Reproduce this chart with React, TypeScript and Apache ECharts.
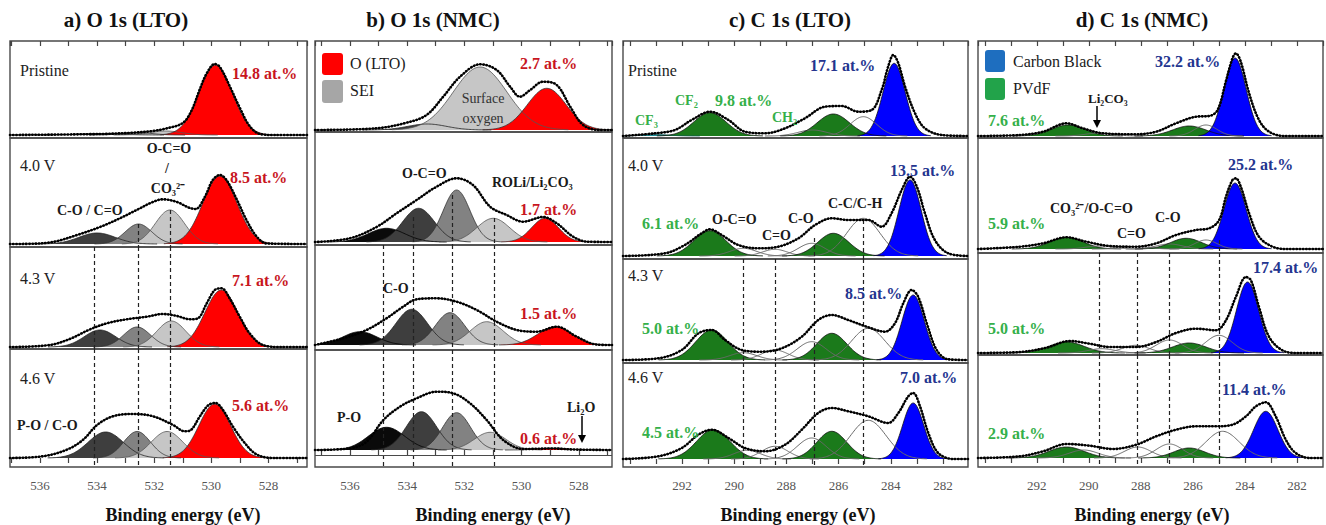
import React, { useEffect, useRef } from "react";
import * as echarts from "echarts";

// ---------------- data ----------------
const panelTitles = ["a) O 1s (LTO)", "b) O 1s (NMC)", "c) C 1s (LTO)", "d) C 1s (NMC)"];
const sampleLabels = ["Pristine", "4.0 V", "4.3 V", "4.6 V"];
const axisTitle = "Binding energy (eV)";
// labelled tick range of each panel's energy axis (eV)
const tickLabelRange = [[528, 536], [528, 536], [282, 292], [282, 292]];

// fitted components: [centre (eV), height (a.u.), FWHM (eV), component]
const aPristinePeaks = [[533.9, 1.5, 1.6, "d"], [532.6, 2.5, 1.2, "m"], [531.6, 4, 1.3, "l"], [529.85, 70, 1.38, "r"]];
const a40Peaks = [[534.0, 11, 1.5, "d"], [532.55, 20, 1.1, "m"], [531.45, 34, 1.2, "l"], [529.7, 68, 1.4, "r"]];
const a43Peaks = [[533.9, 17, 1.3, "d"], [532.6, 20, 1.1, "m"], [531.4, 26, 1.2, "l"], [529.65, 57, 1.35, "r"]];
const a46Peaks = [[533.7, 26, 1.45, "d"], [532.6, 26.5, 1.1, "m"], [531.55, 26.5, 1.3, "l"], [529.88, 54, 1.3, "r"]];

const bPristinePeaks = [[533.3, 6, 1.6, "d"], [531.45, 63, 2.2, "l"], [529.12, 41.7, 1.6, "r"]];
const b40Peaks = [[534.72, 13.7, 1.5, "k"], [533.6, 33.7, 1.3, "d"], [532.27, 52, 1.1, "m"], [530.99, 23.7, 1.35, "l"], [529.18, 23.7, 1.1, "r"]];
const b43Peaks = [[535.65, 13.3, 1.4, "k"], [533.84, 35.7, 1.3, "d"], [532.5, 32.3, 1.2, "m"], [531.22, 23.3, 1.35, "l"], [528.83, 18.3, 1.4, "r"]];
const b46Peaks = [[534.72, 22.7, 1.5, "k"], [533.5, 38.3, 1.25, "d"], [532.27, 37.3, 1.15, "m"], [531.1, 17.7, 1.3, "l"], [528.9, 2, 1.2, "r"]];

const cPristinePeaks = [[293.0, 1.5, 1.2, "t"], [290.93, 23.3, 1.45, "g"], [287.0, 6, 1.3, "w"], [286.2, 22, 1.45, "g"], [285.05, 19.3, 1.2, "w"], [283.87, 72.7, 1.0, "b"]];
const c40Peaks = [[290.93, 25.3, 1.45, "g"], [289.65, 7.7, 1.2, "w"], [288.44, 6.7, 1.1, "w"], [287.03, 12.7, 1.2, "w"], [286.2, 22.7, 1.4, "g"], [285.05, 37.7, 1.5, "w"], [283.26, 76, 1.0, "b"]];
const c43Peaks = [[290.86, 30, 1.45, "g"], [289.65, 7.3, 1.2, "w"], [288.44, 10, 1.2, "w"], [287.03, 18.3, 1.3, "w"], [286.26, 26.7, 1.35, "g"], [284.86, 31.7, 1.5, "w"], [283.14, 65, 1.0, "b"]];
const c46Peaks = [[290.8, 29.3, 1.5, "g"], [289.5, 8.7, 1.2, "w"], [288.44, 12.7, 1.2, "w"], [287.03, 21, 1.3, "w"], [286.26, 27.7, 1.35, "g"], [284.86, 38.7, 1.6, "w"], [283.14, 56, 0.95, "b"]];

const dPristinePeaks = [[290.8, 11, 1.5, "g"], [289.6, 3, 1.2, "w"], [286.14, 10, 1.5, "g"], [285.5, 11, 1.0, "w"], [284.38, 78, 1.0, "b"]];
const d40Peaks = [[290.86, 11.7, 1.5, "g"], [289.6, 3, 1.2, "w"], [288.2, 2.5, 1.2, "w"], [286.9, 5, 1.2, "w"], [286.26, 10.7, 1.4, "g"], [285.5, 9, 1.0, "w"], [284.38, 66, 1.0, "b"]];
const d43Peaks = [[290.86, 11, 1.6, "g"], [289.5, 4.3, 1.2, "w"], [288.2, 7.7, 1.2, "w"], [286.9, 13, 1.2, "w"], [286.14, 10, 1.5, "g"], [285.0, 17.7, 1.2, "w"], [283.9, 71, 1.0, "b"]];
const d46Peaks = [[290.86, 11, 1.6, "g"], [290.2, 8, 1.3, "w"], [288.12, 11, 1.2, "w"], [286.9, 14, 1.2, "w"], [286.14, 10, 1.4, "g"], [284.86, 26.7, 1.5, "w"], [283.2, 46.7, 1.1, "b"]];

// measured spectra (envelope): [binding energy (eV), intensity (a.u.)]
const aPristineData = [[537.05, 0], [533.9, 1], [532.75, 2.3], [532.05, 4], [531.56, 6.7], [531.0, 12], [530.7, 24], [530.4, 46], [530.16, 61.7], [529.88, 71], [529.7, 68], [529.36, 49], [529.0, 27], [528.66, 9], [528.3, 1], [527.8, 0], [526.65, 0]];
const a40Data = [[537.05, 0], [536.2, 0.3], [535.5, 2.3], [534.7, 9], [533.9, 17], [533.2, 25.7], [532.5, 35.7], [532.05, 42], [531.7, 44.7], [531.2, 42], [530.8, 36.5], [530.55, 35], [530.23, 47], [529.95, 64], [529.7, 69], [529.47, 64], [529.1, 44], [528.77, 24], [528.4, 7], [528.06, 0.5], [526.65, 0]];
const a43Data = [[537.05, 0], [535.65, 2], [534.9, 8.7], [534.3, 17], [533.66, 23.7], [532.96, 27.7], [532.26, 30.3], [531.7, 33], [531.2, 31], [530.75, 27.7], [530.47, 28.7], [530.16, 43.7], [529.88, 57], [529.64, 58.7], [529.36, 48.7], [529.0, 30], [528.66, 13.7], [528.2, 2], [527.6, 0], [526.65, 0]];
const a46Data = [[537.05, 0], [535.9, 1.7], [535.06, 8.3], [534.5, 18], [534.0, 33], [533.45, 41.7], [532.75, 44], [532.04, 41.7], [531.34, 33], [530.93, 26.7], [530.7, 28.3], [530.4, 41.7], [530.1, 53], [529.85, 55], [529.6, 48.3], [529.25, 31.7], [528.83, 15], [528.4, 3.3], [527.8, 0], [526.65, 0]];

const bPristineData = [[537.22, 0], [535.07, 1.7], [534.02, 7.3], [533.32, 15], [532.74, 33.3], [532.15, 53.3], [531.45, 65.7], [530.87, 60], [530.4, 43.3], [530.06, 33.3], [529.7, 40], [529.25, 48.3], [528.77, 45], [528.3, 23.3], [527.85, 5], [527.3, 0], [526.84, 0]];
const b40Data = [[537.22, 0], [536.0, 3.7], [535.07, 15], [534.37, 28.7], [533.67, 42], [532.97, 55.3], [532.27, 63.7], [531.7, 57], [531.1, 35.3], [530.52, 27], [529.95, 20.3], [529.25, 25], [528.77, 18.7], [528.2, 5.3], [527.7, 0.3], [526.84, 0]];
const b43Data = [[537.22, 0], [536.24, 6.7], [535.42, 15], [534.72, 26.7], [534.14, 38.3], [533.67, 45.7], [532.97, 46.7], [532.27, 43.3], [531.57, 35], [530.87, 23.3], [530.17, 15], [529.47, 13.3], [528.77, 18.3], [528.07, 8.3], [527.4, 0.5], [526.84, 0]];
const b46Data = [[537.22, 0], [536.0, 1.7], [535.42, 8.3], [534.83, 30], [534.25, 43.3], [533.67, 51.7], [532.97, 58.3], [532.39, 56.7], [531.8, 46.7], [531.22, 30], [530.64, 10], [529.94, 1], [528.9, 1.5], [528.2, 0.5], [526.84, 0]];

const cPristineData = [[294.26, 0], [293.03, 2.7], [292.27, 6], [291.63, 16], [290.93, 24.3], [290.22, 16], [289.59, 4.3], [288.82, 2.7], [288.05, 7.7], [287.29, 17.7], [286.52, 29.3], [285.88, 30], [285.24, 24.3], [284.73, 26], [284.35, 46], [284.1, 69.3], [283.9, 81], [283.71, 72.7], [283.45, 49.3], [283.07, 22.7], [282.69, 7.7], [282.05, 1], [281.04, 0]];
const c40Data = [[294.26, 0], [292.65, 2.7], [291.89, 11], [291.25, 22.7], [290.93, 26.7], [290.48, 21], [289.84, 11], [289.08, 7.7], [288.31, 9.3], [287.54, 17.7], [286.9, 31], [286.26, 37.7], [285.63, 36], [284.86, 36], [284.35, 29.3], [283.97, 42.7], [283.58, 66], [283.26, 79.3], [283.0, 69.3], [282.69, 42.7], [282.31, 16], [281.8, 2.7], [281.04, 0]];
const c43Data = [[294.26, 0], [292.9, 1.7], [292.01, 10], [291.37, 26.7], [290.86, 30], [290.35, 20], [289.71, 10], [288.95, 8.3], [288.18, 11.7], [287.41, 23.3], [286.78, 40], [286.26, 45], [285.63, 40], [284.86, 32.7], [284.22, 28.3], [283.84, 36.7], [283.52, 56.7], [283.2, 70], [282.95, 63.3], [282.62, 36.7], [282.24, 10], [281.8, 0.7], [281.04, 0]];
const c46Data = [[294.26, 0], [292.9, 2.7], [292.01, 11], [291.37, 24.3], [290.86, 29.3], [290.22, 21], [289.59, 11], [288.82, 7.7], [288.05, 14.3], [287.41, 29.3], [286.78, 46], [286.26, 51], [285.63, 47.7], [284.86, 42.7], [284.1, 36], [283.71, 46], [283.33, 62.7], [283.14, 66], [282.88, 52.7], [282.56, 26], [282.18, 6], [281.6, 0], [281.04, 0]];

const dPristineData = [[294.26, 0], [292.65, 1], [291.76, 4.3], [290.86, 12.7], [290.23, 7.7], [289.46, 2.7], [288.18, 1.7], [287.41, 4.3], [286.65, 12.7], [285.88, 19.3], [285.37, 20], [285.05, 26], [284.73, 55], [284.48, 77.7], [284.35, 82.7], [284.16, 74.3], [283.84, 42.7], [283.46, 16], [283.07, 4.3], [282.5, 0], [281.0, 0]];
const d40Data = [[294.26, 0], [292.65, 2.3], [291.76, 5.7], [290.86, 11.7], [290.1, 7.3], [289.2, 3], [288.18, 2.3], [287.41, 5.7], [286.65, 14], [285.88, 19], [285.37, 20.7], [284.99, 29], [284.73, 52.3], [284.48, 69], [284.35, 70.7], [284.16, 62.3], [283.84, 35.7], [283.46, 12.3], [282.94, 2.3], [282.4, 0], [281.0, 0]];
const d43Data = [[294.26, 0], [292.65, 1], [291.63, 5.3], [290.74, 12], [289.97, 9.3], [289.2, 6], [288.18, 6], [287.41, 11], [286.65, 20], [285.88, 24.3], [285.11, 22.7], [284.73, 32.7], [284.35, 56], [283.96, 76], [283.77, 72.7], [283.46, 46], [283.07, 16], [282.56, 2.7], [282.0, 0], [281.0, 0]];
const d46Data = [[294.26, 0], [292.65, 1.7], [291.76, 6.7], [290.86, 14], [289.97, 12.3], [289.07, 9], [288.18, 13.3], [287.41, 21.7], [286.65, 28.3], [285.88, 31.7], [285.11, 31.7], [284.48, 33.3], [283.96, 41.7], [283.58, 51.7], [283.2, 55.7], [282.82, 41.7], [282.43, 18.3], [282.05, 5], [281.5, 0], [281.0, 0]];

// reference energies of the dashed guide lines (eV)
const aGuides = [534.1, 532.55, 531.45];
const bGuides = [534.83, 533.78, 532.41, 530.96];
const cGuides = [289.66, 288.44, 286.94, 285.07];
const dGuides = [289.59, 288.13, 286.9, 284.99];

// ---------------- layout / styles ----------------
const panelLayout = [
  { left: 10, right: 307, xMin: 526.65, xMax: 537.05, boxes: [41, 138, 247, 349, 467], base: [135, 244, 347, 458] },
  { left: 315, right: 612, xMin: 526.84, xMax: 537.22, boxes: [41, 132, 245, 350, 467], base: [130, 242, 345, 450] },
  { left: 623, right: 968, xMin: 281.04, xMax: 294.26, boxes: [41, 138, 259, 363, 467], base: [136, 256, 360, 459] },
  { left: 978, right: 1323, xMin: 281.0, xMax: 294.26, boxes: [41, 138, 253, 355, 467], base: [136, 249, 353, 458] },
];
const guideStart40 = [[null, 20, 34], [null, 25, 47, 24], [null, null, 18, 36], [null, null, null, 9]];

const spectra = [
  [[aPristinePeaks, aPristineData], [a40Peaks, a40Data], [a43Peaks, a43Data], [a46Peaks, a46Data]],
  [[bPristinePeaks, bPristineData], [b40Peaks, b40Data], [b43Peaks, b43Data], [b46Peaks, b46Data]],
  [[cPristinePeaks, cPristineData], [c40Peaks, c40Data], [c43Peaks, c43Data], [c46Peaks, c46Data]],
  [[dPristinePeaks, dPristineData], [d40Peaks, d40Data], [d43Peaks, d43Data], [d46Peaks, d46Data]],
];
const guides = [aGuides, bGuides, cGuides, dGuides];

const fills: Record<string, string | null> = {
  k: "#0a0a0a", d: "#3e3e3e", m: "#828282", l: "#c6c6c6", r: "#ff0000",
  g: "#1b7a1b", b: "#0000ff", t: "#1f8f9a", w: null,
};
const strokes: Record<string, string> = {
  k: "#000", d: "#222", m: "#333", l: "#555", r: "#333", g: "#111", b: "#111", t: "#155", w: "#6a6a6a",
};

const SERIF = "'Liberation Serif', 'Times New Roman', serif";
const RED = "#c8161e";
const BLUE = "#24358f";
const GREEN = "#35b04a";

function peakCurve(c: number, h: number, w: number, lo: number, hi: number) {
  const s = w / 2.3548;
  const a = Math.max(lo, c - 3.3 * s);
  const b = Math.min(hi, c + 3.3 * s);
  const n = 90;
  const pts: number[][] = [];
  for (let i = 0; i <= n; i++) {
    const e = a + ((b - a) * i) / n;
    pts.push([e, h * Math.exp(-((e - c) * (e - c)) / (2 * s * s))]);
  }
  return pts;
}

function txt(text: string, x: number, y: number, o: any = {}) {
  const size = o.size ?? 15;
  const weight = o.bold ? "bold " : "";
  const align = o.align ?? "left";
  return {
    type: "text",
    x,
    y,
    silent: true,
    z: 100,
    style: {
      text,
      fill: o.color ?? "#1a1a1a",
      font: `${weight}${size}px ${SERIF}`,
      align,
      verticalAlign: "middle",
      textAlign: align,
      textVerticalAlign: "middle",
    },
  };
}

function arrow(x: number, y1: number, y2: number) {
  return [
    { type: "line", silent: true, z: 100, shape: { x1: x, y1, x2: x, y2: y2 - 6 }, style: { stroke: "#000", lineWidth: 1.5 } },
    { type: "polygon", silent: true, z: 100, shape: { points: [[x - 4, y2 - 8], [x + 4, y2 - 8], [x, y2]] }, style: { fill: "#000" } },
  ];
}

function buildOption() {
  const grid: any[] = [];
  const xAxis: any[] = [];
  const yAxis: any[] = [];
  const series: any[] = [];

  panelLayout.forEach((P, p) => {
    const [lMin, lMax] = tickLabelRange[p];
    for (let s = 0; s < 4; s++) {
      const gi = p * 4 + s;
      const top = P.boxes[s];
      const bottom = P.boxes[s + 1];
      const h = bottom - top;
      const off = bottom - P.base[s];
      grid.push({
        left: P.left, top, width: P.right - P.left, height: h,
        show: true, borderColor: "#4a4a4a", borderWidth: 1.4, backgroundColor: "transparent",
      });
      xAxis.push({
        type: "value", gridIndex: gi, min: P.xMin, max: P.xMax, inverse: true,
        show: s === 3, position: "bottom", minInterval: 1, maxInterval: 1,
        splitLine: { show: false },
        axisLine: { show: false },
        axisTick: { show: true, inside: false, length: 5, lineStyle: { color: "#444", width: 1.2 } },
        axisLabel: {
          show: true, margin: 12, color: "#555", fontFamily: "Liberation Serif", fontSize: 13,
          showMinLabel: false, showMaxLabel: false,
          formatter: (v: number) => {
            const r = Math.round(v);
            return Math.abs(v - r) < 1e-6 && r % 2 === 0 && r >= lMin && r <= lMax ? String(r) : "";
          },
        },
      });
      yAxis.push({ type: "value", gridIndex: gi, min: -off, max: h - off, show: false });

      const [peaks, data] = spectra[p][s] as any;
      peaks.forEach((pk: any[]) => {
        const [c, ht, w, kind] = pk;
        const f = fills[kind];
        series.push({
          type: "line", xAxisIndex: gi, yAxisIndex: gi, silent: true,
          data: peakCurve(c, ht, w, P.xMin, P.xMax),
          symbol: "none", showSymbol: false, z: 2,
          lineStyle: { color: strokes[kind], width: kind === "w" ? 1 : 0.8 },
          areaStyle: f ? { color: f, opacity: 1 } : undefined,
        });
      });

      // dashed guide lines
      const mlData: any[] = [];
      guides[p].forEach((e, k) => {
        if (s === 0) return;
        if (s === 1) {
          const st = guideStart40[p][k];
          if (st === null) return;
          mlData.push([{ coord: [e, st] }, { coord: [e, -off] }]);
        } else {
          mlData.push([{ coord: [e, h - off] }, { coord: [e, -off] }]);
        }
      });
      if (p === 1 && s === 3) {
        mlData.push([
          { coord: [P.xMax, -5], lineStyle: { type: "solid", color: "#4a4a4a", width: 1.2 } },
          { coord: [P.xMin, -5] },
        ]);
      }

      series.push({
        type: "line", xAxisIndex: gi, yAxisIndex: gi, silent: true, data,
        smooth: 0.35, symbol: "none", showSymbol: false, z: 5,
        lineStyle: { color: "#1a1a1a", width: 1 },
        markLine: mlData.length
          ? {
              silent: true, symbol: ["none", "none"], label: { show: false },
              lineStyle: { type: [4, 3], color: "#222", width: 1.2 },
              data: mlData,
            }
          : undefined,
      });
      series.push({
        type: "line", xAxisIndex: gi, yAxisIndex: gi, silent: true, data,
        smooth: 0.35, symbol: "none", showSymbol: false, z: 6,
        lineStyle: { color: "#000", width: 2.6, type: [0.4, 2.8], cap: "round" },
      });
    }
  });

  // top tick axes
  panelLayout.forEach((P, p) => {
    xAxis.push({
      type: "value", gridIndex: p * 4, min: P.xMin, max: P.xMax, inverse: true, position: "top",
      minInterval: 1, maxInterval: 1,
      axisLine: { show: false }, splitLine: { show: false },
      axisTick: { show: true, inside: true, length: 5, lineStyle: { color: "#444", width: 1.2 } },
      axisLabel: { show: false },
    });
  });

  const titleX = [126, 433, 790, 1142];
  const axisX = [183, 493, 798, 1152];
  const g: any[] = [];
  panelTitles.forEach((t, i) => g.push(txt(t, titleX[i], 20, { bold: true, size: 21, align: "center", color: "#111" })));
  axisX.forEach((x) => g.push(txt(axisTitle, x, 515, { bold: true, size: 18, align: "center", color: "#111" })));

  // sample labels
  const sampleX = [20, -1, 628, -1];
  const sampleY = [[70, 165, 278, 378], null, [70, 165, 275, 377], null];
  [0, 2].forEach((p) => {
    sampleLabels.forEach((lab, s) => g.push(txt(lab, sampleX[p], (sampleY[p] as number[])[s], { size: 16, color: "#222" })));
  });

  // panel a annotations
  g.push(txt("14.8 at.%", 232, 73, { bold: true, size: 16, color: RED }));
  g.push(txt("8.5 at.%", 230, 177, { bold: true, size: 16, color: RED }));
  g.push(txt("7.1 at.%", 232, 280, { bold: true, size: 16, color: RED }));
  g.push(txt("5.6 at.%", 232, 405, { bold: true, size: 16, color: RED }));
  g.push(txt("O-C=O", 169, 148, { bold: true, size: 14, align: "center" }));
  g.push(txt("/", 167, 168, { bold: true, size: 14, align: "center" }));
  g.push(txt("CO₃²⁻", 168, 188, { bold: true, size: 14, align: "center" }));
  g.push(txt("C-O / C=O", 57, 210, { bold: true, size: 14 }));
  g.push(txt("P-O / C-O", 17, 425, { bold: true, size: 14 }));

  // panel b annotations
  g.push({ type: "rect", silent: true, z: 100, shape: { x: 322, y: 53, width: 21, height: 22, r: 3 }, style: { fill: "#ff0000" } });
  g.push({ type: "rect", silent: true, z: 100, shape: { x: 322, y: 80, width: 21, height: 23, r: 3 }, style: { fill: "#a6a6a6" } });
  g.push(txt("O (LTO)", 350, 63, { size: 16 }));
  g.push(txt("SEI", 350, 90, { size: 16 }));
  g.push(txt("2.7 at.%", 520, 63, { bold: true, size: 16, color: RED }));
  g.push(txt("Surface", 483, 98, { size: 14, align: "center", color: "#333" }));
  g.push(txt("oxygen", 483, 118, { size: 14, align: "center", color: "#333" }));
  g.push(txt("O-C=O", 402, 173, { bold: true, size: 14 }));
  g.push(txt("ROLi/Li₂CO₃", 492, 182, { bold: true, size: 14 }));
  g.push(txt("1.7 at.%", 520, 209, { bold: true, size: 16, color: RED }));
  g.push(txt("C-O", 383, 288, { bold: true, size: 14 }));
  g.push(txt("1.5 at.%", 520, 313, { bold: true, size: 16, color: RED }));
  g.push(txt("P-O", 337, 417, { bold: true, size: 14 }));
  g.push(txt("0.6 at.%", 520, 438, { bold: true, size: 16, color: RED }));
  g.push(txt("Li₂O", 567, 407, { bold: true, size: 14 }));
  g.push(...arrow(582, 416, 443));

  // panel c annotations
  g.push(txt("17.1 at.%", 810, 65, { bold: true, size: 16, color: BLUE }));
  g.push(txt("CF₃", 635, 120, { bold: true, size: 14, color: GREEN }));
  g.push(txt("CF₂", 675, 100, { bold: true, size: 14, color: GREEN }));
  g.push(txt("9.8 at.%", 715, 100, { bold: true, size: 16, color: GREEN }));
  g.push(txt("CH₂", 772, 117, { bold: true, size: 14, color: GREEN }));
  g.push(txt("13.5 at.%", 890, 170, { bold: true, size: 16, color: BLUE }));
  g.push(txt("6.1 at.%", 642, 223, { bold: true, size: 16, color: GREEN }));
  g.push(txt("O-C=O", 712, 219, { bold: true, size: 14 }));
  g.push(txt("C=O", 762, 235, { bold: true, size: 14 }));
  g.push(txt("C-O", 788, 218, { bold: true, size: 14 }));
  g.push(txt("C-C/C-H", 828, 203, { bold: true, size: 14 }));
  g.push(txt("8.5 at.%", 845, 293, { bold: true, size: 16, color: BLUE }));
  g.push(txt("5.0 at.%", 642, 328, { bold: true, size: 16, color: GREEN }));
  g.push(txt("7.0 at.%", 900, 377, { bold: true, size: 16, color: BLUE }));
  g.push(txt("4.5 at.%", 642, 432, { bold: true, size: 16, color: GREEN }));

  // panel d annotations
  g.push({ type: "rect", silent: true, z: 100, shape: { x: 985, y: 50, width: 20, height: 22, r: 3 }, style: { fill: "#1e6ebf" } });
  g.push({ type: "rect", silent: true, z: 100, shape: { x: 985, y: 78, width: 20, height: 22, r: 3 }, style: { fill: "#22a34a" } });
  g.push(txt("Carbon Black", 1013, 61, { size: 16 }));
  g.push(txt("PVdF", 1013, 88, { size: 16 }));
  g.push(txt("32.2 at.%", 1155, 61, { bold: true, size: 16, color: BLUE }));
  g.push(txt("Li₂CO₃", 1088, 98, { bold: true, size: 13 }));
  g.push(...arrow(1097, 106, 128));
  g.push(txt("7.6 at.%", 988, 120, { bold: true, size: 16, color: GREEN }));
  g.push(txt("25.2 at.%", 1228, 164, { bold: true, size: 16, color: BLUE }));
  g.push(txt("CO₃²⁻/O-C=O", 1050, 208, { bold: true, size: 14 }));
  g.push(txt("5.9 at.%", 988, 223, { bold: true, size: 16, color: GREEN }));
  g.push(txt("C-O", 1155, 217, { bold: true, size: 14 }));
  g.push(txt("C=O", 1117, 233, { bold: true, size: 14 }));
  g.push(txt("17.4 at.%", 1253, 267, { bold: true, size: 16, color: BLUE }));
  g.push(txt("5.0 at.%", 988, 328, { bold: true, size: 16, color: GREEN }));
  g.push(txt("11.4 at.%", 1222, 389, { bold: true, size: 16, color: BLUE }));
  g.push(txt("2.9 at.%", 988, 433, { bold: true, size: 16, color: GREEN }));

  return {
    animation: false,
    backgroundColor: "#ffffff",
    textStyle: { fontFamily: "Liberation Serif" },
    grid,
    xAxis,
    yAxis,
    series,
    graphic: { elements: g },
  };
}

export default function App() {
  const ref = useRef<HTMLDivElement>(null);
  useEffect(() => {
    const chart = echarts.init(ref.current as HTMLDivElement, null, { renderer: "svg" });
    chart.setOption(buildOption() as any);
    return () => chart.dispose();
  }, []);
  return (
    <div
      ref={ref}
      style={{ position: "fixed", left: 0, top: 0, width: 1326, height: 525, background: "#fff" }}
    />
  );
}
